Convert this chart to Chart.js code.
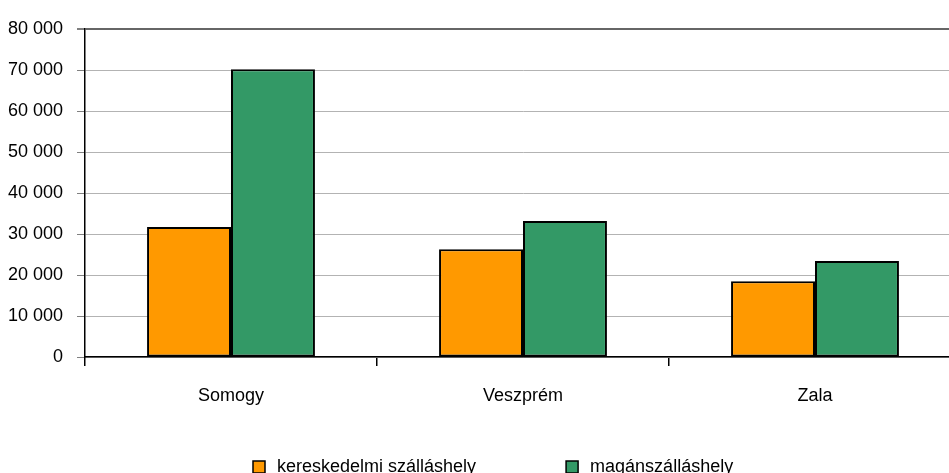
<!DOCTYPE html>
<html>
<head>
<meta charset="utf-8">
<script src="https://cdn.jsdelivr.net/npm/chart.js@4"></script>
<style>
  html, body { margin: 0; padding: 0; background: #fff; overflow: hidden; }
  /* plot area runs a little past the right window edge, as in the original */
  #wrap { width: 961px; height: 473px; position: relative; }
</style>
</head>
<body>
<div id="wrap"><canvas id="regionChart"></canvas></div>
<script>
/* ---- data ---- */
const regions = ['Somogy', 'Veszprém', 'Zala'];
const commercial = [31700, 26300, 18500];
const privateAcc = [70200, 33200, 23400];
const seriesNames = ['kereskedelmi szálláshely', 'magánszálláshely'];
const seriesColors = ['#FF9900', '#339966'];

const FONT = "'Liberation Sans', Arial, sans-serif";
const fmt = v => String(v).replace(/\B(?=(\d{3})+(?!\d))/g, ' ');

/* legend drawn below the axis, spaced like the original */
const bottomLegend = {
  id: 'bottomLegend',
  afterDraw(chart) {
    const ctx = chart.ctx;
    const y = 467;
    let x = 253;
    ctx.save();
    ctx.font = '18px ' + FONT;
    ctx.textBaseline = 'middle';
    chart.data.datasets.forEach((ds) => {
      ctx.fillStyle = ds.backgroundColor;
      ctx.fillRect(x, y - 6, 12, 12);
      ctx.strokeStyle = '#000';
      ctx.lineWidth = 1.5;
      ctx.strokeRect(x, y - 6, 12, 12);
      ctx.fillStyle = '#000';
      ctx.fillText(ds.label, x + 24, y);
      x += 24 + ctx.measureText(ds.label).width + 90;
    });
    ctx.restore();
  }
};

new Chart(document.getElementById('regionChart'), {
  type: 'bar',
  data: {
    labels: regions,
    datasets: [
      { label: seriesNames[0], data: commercial, backgroundColor: seriesColors[0] },
      { label: seriesNames[1], data: privateAcc, backgroundColor: seriesColors[1] }
    ]
  },
  options: {
    responsive: true,
    maintainAspectRatio: false,
    animation: false,
    devicePixelRatio: 1,
    layout: { padding: { top: 29, right: 0, bottom: 0, left: 0 } },
    datasets: {
      bar: {
        categoryPercentage: 0.575,
        barPercentage: 1,
        borderColor: '#000',
        borderWidth: 2,
        borderSkipped: false
      }
    },
    plugins: {
      legend: { display: false },
      tooltip: { enabled: false }
    },
    scales: {
      x: {
        grid: { offset: true, drawOnChartArea: false, drawTicks: true, tickLength: 9, tickColor: '#000', lineWidth: 1.5 },
        border: { color: '#000', width: 1.5 },
        ticks: { color: '#000', padding: 19, font: { family: FONT, size: 18 } },
        afterFit: s => { s.height = 116; }
      },
      y: {
        min: 0,
        max: 80000,
        grid: {
          color: c => c.tick && c.tick.value === 80000 ? '#666' : '#b3b3b3',
          lineWidth: c => c.tick && c.tick.value === 80000 ? 2 : 1,
          tickLength: 8,
          tickColor: '#808080'
        },
        border: { color: '#000', width: 1.5 },
        ticks: {
          stepSize: 10000,
          color: '#000',
          padding: 14,
          font: { family: FONT, size: 18 },
          callback: v => fmt(v)
        },
        afterFit: s => { s.width = 85; }
      }
    }
  },
  plugins: [bottomLegend]
});
</script>
</body>
</html>
